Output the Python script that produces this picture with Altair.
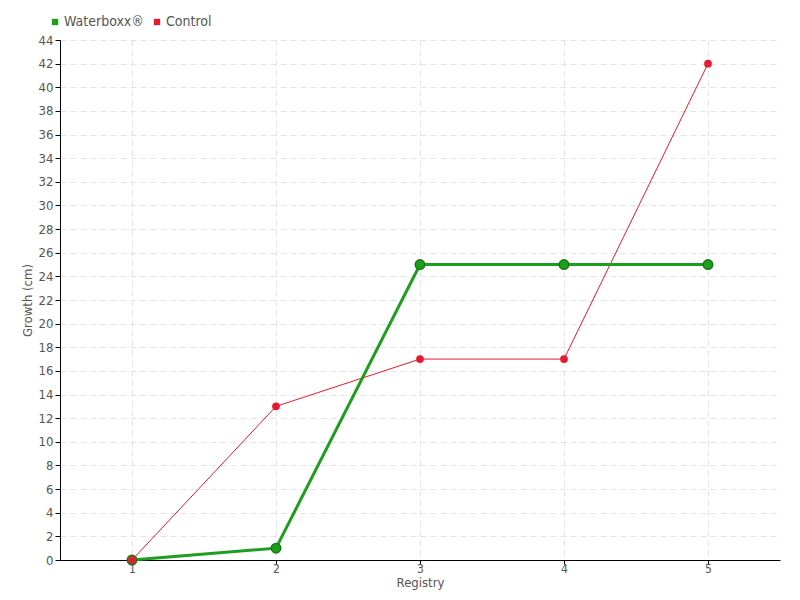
import altair as alt
import pandas as pd

registry = [1, 2, 3, 4, 5]
waterboxx = [0, 1, 25, 25, 25]
control = [0, 13, 17, 17, 42]
series_names = ["Waterboxx®", "Control"]
colors = ["#1e9e1e", "#e8192c"]

rows = []
for r, w, c in zip(registry, waterboxx, control):
    rows.append({"Registry": r, "Growth": w, "Series": series_names[0]})
    rows.append({"Registry": r, "Growth": c, "Series": series_names[1]})
df = pd.DataFrame(rows)

FONT = "DejaVu Sans Condensed"

x = alt.X("Registry:Q", scale=alt.Scale(domain=[0.5, 5.5], nice=False),
          axis=alt.Axis(values=registry, title="Registry", format="d",
                        grid=True, gridDash=[6, 4], gridColor="#e3e3e3",
                        domainColor="#000", tickColor="#000", tickSize=4,
                        labelFont=FONT, labelFontSize=12, labelColor="#555",
                        titleFont=FONT, titleFontSize=13, titleColor="#555",
                        titleFontWeight="normal", titleY=16, titleBaseline="top",
                        labelPadding=-1))
y = alt.Y("Growth:Q", scale=alt.Scale(domain=[0, 44], nice=False),
          axis=alt.Axis(values=list(range(0, 45, 2)), title="Growth (cm)",
                        grid=True, gridDash=[6, 4], gridColor="#e3e3e3",
                        domainColor="#000", tickColor="#000", tickSize=5,
                        labelFont=FONT, labelFontSize=13, labelColor="#555",
                        titleFont=FONT, titleFontSize=13, titleColor="#555",
                        titleFontWeight="normal", titlePadding=4, labelPadding=2))
color = alt.Color("Series:N", scale=alt.Scale(domain=series_names, range=colors),
                  sort=series_names,
                  legend=alt.Legend(title=None, orient="none", legendX=-12, legendY=-25,
                                    direction="horizontal", symbolType="square",
                                    symbolSize=40, labelFont=FONT, labelFontSize=14,
                                    labelColor="#555", columnPadding=6, labelOffset=2,
                                    symbolStrokeWidth=0))

base = alt.Chart(df)
green = base.transform_filter(alt.datum.Series == series_names[0])
red = base.transform_filter(alt.datum.Series == series_names[1])

red_line = red.mark_line(strokeWidth=1).encode(x=x, y=y, color=color)
green_line = green.mark_line(strokeWidth=3).encode(x=x, y=y, color=color)
red_pts = red.mark_circle(size=60, opacity=1).encode(x=x, y=y, color=color)
green_pts = green.mark_point(filled=True, size=90, opacity=1, stroke="#157a15",
                             strokeWidth=1.5).encode(x=x, y=y, color=color)

chart = alt.layer(red_line, green_line, green_pts, red_pts).properties(
    width=720, height=520,
    autosize=alt.AutoSizeParams(type="none"),
    padding={"left": 52, "top": 32, "right": 12, "bottom": 32},
).configure_view(stroke=None)

chart.save("out.html", embed_options={"renderer": "svg", "actions": False})
